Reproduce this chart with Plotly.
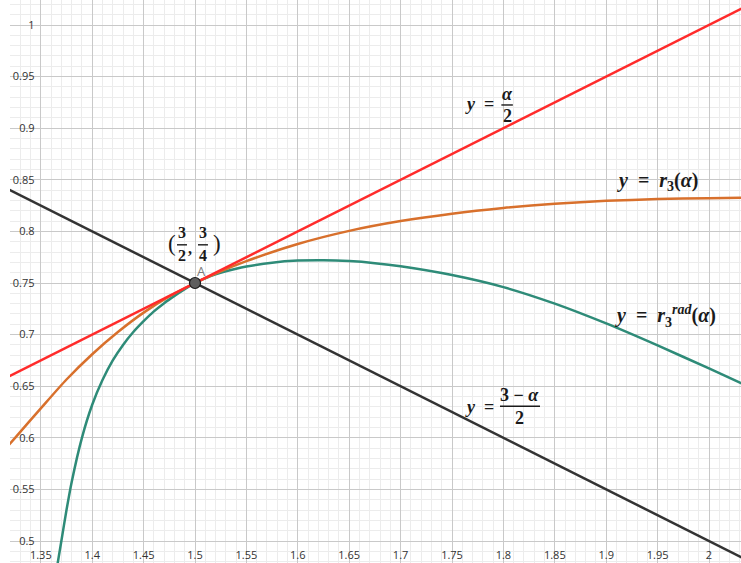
"""
Comparison of r3(alpha), r3_rad(alpha) and the lines alpha/2, (3 - alpha)/2
near the point A = (3/2, 3/4).
"""

import plotly.graph_objects as go

# ---------------------------------------------------------------------------
# Data
# ---------------------------------------------------------------------------

# y = alpha / 2  (straight line, two end points)
alpha_half_x = [1.30, 2.05]
alpha_half_y = [0.650, 1.025]

# y = (3 - alpha) / 2  (straight line, two end points)
three_minus_x = [1.30, 2.05]
three_minus_y = [0.850, 0.475]

# y = r3(alpha)
r3_x = [1.31, 1.325, 1.35, 1.375, 1.40, 1.425, 1.45, 1.475, 1.50, 1.525,
        1.55, 1.60, 1.65, 1.70, 1.75, 1.80, 1.85, 1.90, 1.95, 2.00, 2.04]
r3_y = [0.583, 0.600, 0.6285, 0.6565, 0.681, 0.7025, 0.7213, 0.737, 0.750, 0.7613,
        0.7712, 0.7878, 0.8005, 0.810, 0.8172, 0.8227, 0.8268, 0.8296, 0.8313, 0.8322, 0.8326]

# y = r3^rad(alpha)
r3rad_x = [1.366, 1.37, 1.375, 1.38, 1.39, 1.40, 1.41, 1.42, 1.43, 1.44, 1.45,
           1.46, 1.47, 1.48, 1.49, 1.50, 1.51, 1.52, 1.53, 1.54, 1.55, 1.575,
           1.60, 1.625, 1.65, 1.675, 1.70, 1.75, 1.80, 1.85, 1.90, 1.95, 2.00, 2.04]
r3rad_y = [0.476, 0.500, 0.530, 0.557, 0.600, 0.632, 0.656, 0.675, 0.690, 0.7025, 0.713,
           0.7225, 0.7305, 0.7375, 0.744, 0.750, 0.7545, 0.7583, 0.7614, 0.7639, 0.7659, 0.7697,
           0.7717, 0.7721, 0.7712, 0.7692, 0.7662, 0.7577, 0.746, 0.730, 0.7108, 0.6895, 0.6672, 0.649]

# point A
point_x = [1.5]
point_y = [0.75]

X_RANGE = [1.32004, 2.03113]
Y_RANGE = [0.47868, 1.02423]

RED = "#ff2b2b"
ORANGE = "#d8702c"
TEAL = "#2e8b78"
BLACK = "#333333"
INK = "#1a1a1a"
NB = "\u00a0"


def _line(x, y, color, name):
    return go.Scatter(
        x=x, y=y, mode="lines", name=name,
        line=dict(color=color, width=2.5, shape="spline", smoothing=0.7),
        hoverinfo="skip", showlegend=False,
    )


fig = go.Figure()
fig.add_trace(_line(three_minus_x, three_minus_y, BLACK, "(3-a)/2"))
fig.add_trace(_line(r3rad_x, r3rad_y, TEAL, "r3rad"))
fig.add_trace(_line(r3_x, r3_y, ORANGE, "r3"))
fig.add_trace(_line(alpha_half_x, alpha_half_y, RED, "a/2"))
fig.add_trace(go.Scatter(
    x=point_x, y=point_y, mode="markers",
    marker=dict(size=11, color="#5e5e5e", line=dict(color=INK, width=1.2)),
    showlegend=False, hoverinfo="skip",
))


def _text(x, y, text, size=18, color=INK, family="Liberation Serif", xanchor="center"):
    fig.add_annotation(
        x=x, y=y, xref="x", yref="y", text=text, showarrow=False,
        xanchor=xanchor, yanchor="middle",
        font=dict(family=family, size=size, color=color),
    )


def _bar(x0, x1, y):
    fig.add_shape(type="line", xref="x", yref="y", x0=x0, x1=x1, y0=y, y1=y,
                  line=dict(color=INK, width=1.4))


eq = f"<b><i>y</i>{NB}{NB}={NB}</b>"

# y = alpha / 2
_text(1.7790, 0.9234, eq)
_text(1.8035, 0.9335, "<b><i>α</i></b>")
_bar(1.7980, 1.8092, 0.9225)
_text(1.8035, 0.9118, "<b>2</b>")

# y = (3 - alpha) / 2
_text(1.7790, 0.6298, eq)
_text(1.8161, 0.6415, f"<b>3{NB}−{NB}<i>α</i></b>")
_bar(1.7967, 1.8356, 0.6305)
_text(1.8161, 0.6188, "<b>2</b>")

# y = r3(alpha), y = r3^rad(alpha)
_text(1.9504, 0.8479,
      f"<b><i>y</i>{NB}{NB}={NB}{NB}<i>r</i><sub>3</sub>(<i>α</i>)</b>", size=20)
_text(1.9572, 0.7180,
      f"<b><i>y</i>{NB}{NB}={NB}{NB}<i>r</i><sub>3</sub><sup><i>rad</i></sup>(<i>α</i>)</b>", size=20)

# (3/2, 3/4)
_text(1.4776, 0.7880, "(", size=23)
_text(1.4874, 0.7988, "<b>3</b>", size=16)
_bar(1.4825, 1.4922, 0.7870)
_text(1.4874, 0.7770, "<b>2</b>", size=16)
_text(1.4951, 0.7838, "<b>,</b>", size=16)
_text(1.5078, 0.7988, "<b>3</b>", size=16)
_bar(1.5029, 1.5126, 0.7870)
_text(1.5078, 0.7770, "<b>4</b>", size=16)
_text(1.5214, 0.7880, ")", size=23)

# point label
_text(1.5068, 0.7612, "A", size=13, color="#7a7a7a", family="Open Sans")

axis_common = dict(
    dtick=0.05, tick0=0,
    showgrid=True, gridcolor="#c9c9c9", gridwidth=1,
    minor=dict(dtick=0.01, tick0=0, showgrid=True, gridcolor="#ececec", gridwidth=1),
    zeroline=False, showline=False,
    ticks="outside", ticklen=4, tickcolor="rgba(0,0,0,0)",
    tickfont=dict(family="Open Sans", size=11, color="#333333"),
    automargin=False, fixedrange=True,
)

fig.update_layout(
    width=741, height=563,
    margin=dict(l=10, r=0, t=0, b=0),
    paper_bgcolor="white", plot_bgcolor="white",
    xaxis=dict(range=X_RANGE, anchor="free",
               position=(0.5 - Y_RANGE[0]) / (Y_RANGE[1] - Y_RANGE[0]),
               **axis_common),
    yaxis=dict(range=Y_RANGE, anchor="free",
               position=(1.35 - X_RANGE[0]) / (X_RANGE[1] - X_RANGE[0]),
               **axis_common),
)

# drop the page's default body margin so the figure fills the window
fig.write_html(
    "out.html",
    config={"displayModeBar": False},
    post_script="document.body.style.margin='0px';document.body.style.overflow='hidden';",
)
